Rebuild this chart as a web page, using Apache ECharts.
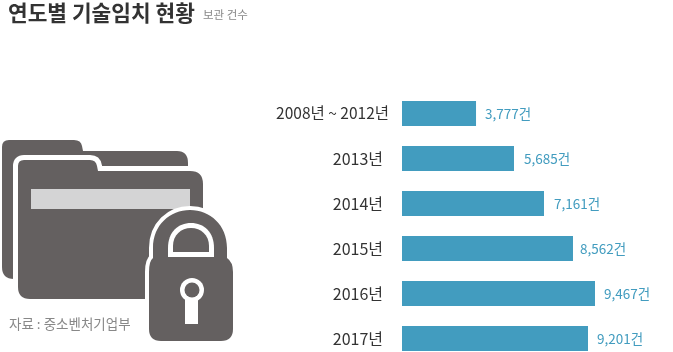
<!DOCTYPE html>
<html>
<head>
<meta charset="utf-8">
<title>연도별 기술임치 현황</title>
<script src="https://cdn.jsdelivr.net/npm/echarts@6/dist/echarts.min.js"></script>
<style>
  html, body { margin: 0; padding: 0; background: #fff; }
  #chart { width: 673px; height: 352px; }
</style>
</head>
<body>
<div id="chart"></div>
<script>
var FONT = '"Noto Sans CJK KR", "Noto Sans", sans-serif';

var categories = ['2008년 ~ 2012년', '2013년', '2014년', '2015년', '2016년', '2017년'];
// numbers printed next to the bars
var printedValues = [3777, 5685, 7161, 8562, 9467, 9201];
// bar lengths as measured in the picture, they are not quite proportional to the printed numbers
var barValues = [3777, 5714, 7245, 8724, 9847, 9490];

var BAR_COLOR = '#429cbf';
var ICON_COLOR = '#646060';
// gap between bar end and its label, not the same on every row in the original
var LABEL_GAPS = [9, 10, 10, 7, 9, 9];

var iconPaths = {
  backFolder: 'M2,147 Q2,140 9,140 L74,140 Q81,140 82,146 L83,151 L177,151 Q188,151 188,163 L188,279 L14,279 Q2,279 2,267 Z',
  frontFolder: 'M18,166 Q18,160 24,160 L90,160 Q96,160 97,166 L98,171 L190,171 Q203,171 203,184 L203,299 L30,299 Q18,299 18,287 Z',
  lockBody: 'M149,272 Q149,261 153,258 L153,248 C153,225 170,210 190,210 C210,210 227,225 227,248 L227,258 Q233,262 233,272 L233,329 Q233,341 221,341 L161,341 Q149,341 149,329 Z',
  shackleOuter: 'M168,257 L168,248 C168,232 178,223 191,223 C204,223 214,232 214,248 L214,257 Z',
  shackleInner: 'M173,252 L173,246 C173,235 181,228 191,228 C201,228 209,235 209,246 L209,252 Z'
};

// graphic component has no plain path type, so the icon parts are registered as shapes
Object.keys(iconPaths).forEach(function (name) {
  echarts.graphic.registerShape(name, echarts.graphic.extendPath(iconPaths[name], {}));
});

function pathEl (name, fill, stroke, lineWidth) {
  return {
    type: name,
    style: {fill: fill, stroke: stroke || null, lineWidth: lineWidth || 0, lineJoin: 'round'}
  };
}

var myChart = echarts.init(document.getElementById('chart'), null, {renderer: 'canvas'});

myChart.setOption({
  animation: false,
  backgroundColor: '#fff',
  textStyle: {fontFamily: FONT},
  title: [{
    text: '연도별 기술임치 현황',
    left: 8,
    top: 2,
    padding: 0,
    textStyle: {fontFamily: FONT, fontSize: 21.4, fontWeight: 'bold', color: '#333'}
  }, {
    text: '보관 건수',
    left: 203,
    top: 9,
    padding: 0,
    textStyle: {fontFamily: FONT, fontSize: 11.5, fontWeight: 'normal', color: '#888'}
  }],
  // last band runs past the bottom edge of the page
  grid: {left: 402, top: 91, width: 196, height: 270, outerBoundsMode: 'none'},
  xAxis: {type: 'value', min: 0, max: 10000, show: false},
  yAxis: {
    type: 'category',
    inverse: true,
    data: categories,
    axisLine: {show: false},
    axisTick: {show: false},
    axisLabel: {
      margin: 13,
      formatter: function (v) {
        return v.indexOf('~') > -1 ? '{wide|' + v + '}' : '{year|' + v + '}';
      },
      rich: {
        wide: {fontFamily: FONT, fontSize: 15.5, color: '#333'},
        year: {fontFamily: FONT, fontSize: 16, color: '#333', padding: [0, 6, 0, 0]}
      }
    }
  },
  series: [{
    type: 'bar',
    barWidth: 25,
    data: barValues.map(function (v, i) {
      return {value: v, label: {distance: LABEL_GAPS[i]}};
    }),
    itemStyle: {color: BAR_COLOR},
    label: {
      show: true,
      position: 'right',
      fontFamily: FONT,
      fontSize: 13.5,
      color: BAR_COLOR,
      formatter: function (p) {
        return printedValues[p.dataIndex].toLocaleString('en-US') + '건';
      }
    }
  }],
  graphic: {
    elements: [
      pathEl('backFolder', ICON_COLOR),
      pathEl('frontFolder', '#fff', '#fff', 10),
      pathEl('frontFolder', ICON_COLOR),
      {type: 'rect', shape: {x: 31, y: 189, width: 159, height: 20}, style: {fill: '#d4d4d5'}},
      pathEl('lockBody', '#fff', '#fff', 8),
      pathEl('lockBody', ICON_COLOR),
      pathEl('shackleOuter', '#fff'),
      pathEl('shackleInner', ICON_COLOR),
      {type: 'circle', shape: {cx: 192, cy: 290, r: 12}, style: {fill: '#fff'}},
      {type: 'rect', shape: {x: 185, y: 295, width: 13, height: 29}, style: {fill: '#fff'}},
      {type: 'circle', shape: {cx: 192, cy: 290, r: 7.5}, style: {fill: ICON_COLOR}},
      {
        type: 'text',
        left: 9,
        top: 317,
        style: {text: '자료 : 중소벤처기업부', fontFamily: FONT, fontSize: 13.5, fill: '#888'}
      }
    ]
  }
});
</script>
</body>
</html>
